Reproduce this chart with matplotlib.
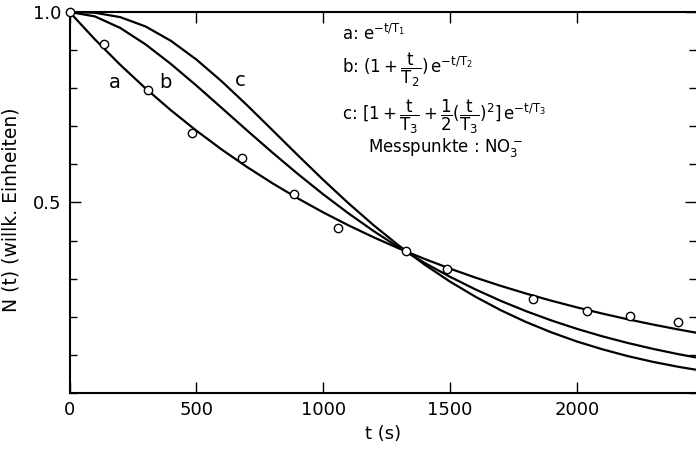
import matplotlib
matplotlib.use("Agg")
import matplotlib.pyplot as plt
from matplotlib.ticker import MultipleLocator, FixedLocator, NullFormatter

plt.rcParams['font.family'] = ['DejaVu Sans']
plt.rcParams['mathtext.default'] = 'regular'

# time grid (s) of values
t_curve = [0, 100, 200, 300, 400, 500, 600, 700, 800, 900, 1000, 1100, 1200,
           1300, 1400, 1500, 1600, 1700, 1800, 1900, 2000, 2100, 2200, 2300,
           2400, 2500]
curve_a = [1.0, 0.9281, 0.8613, 0.7994, 0.7419, 0.6886, 0.6391, 0.5931, 0.5505,
           0.5109, 0.4741, 0.4400, 0.4084, 0.3790, 0.3518, 0.3265, 0.3030, 0.2812,
           0.2610, 0.2422, 0.2248, 0.2086, 0.1936, 0.1797, 0.1668, 0.1548]
curve_b = [1.0, 0.9884, 0.9581, 0.9149, 0.8634, 0.8070, 0.7482, 0.6891, 0.6310,
           0.5750, 0.5216, 0.4714, 0.4246, 0.3813, 0.3415, 0.3051, 0.2720, 0.2419,
           0.2148, 0.1904, 0.1685, 0.1489, 0.1315, 0.1159, 0.1020, 0.0897]
curve_c = [1.0, 0.9980, 0.9865, 0.9619, 0.9242, 0.8753, 0.8180, 0.7553, 0.6899,
           0.6241, 0.5596, 0.4979, 0.4398, 0.3861, 0.3369, 0.2925, 0.2528, 0.2174,
           0.1863, 0.1591, 0.1353, 0.1149, 0.0970, 0.0818, 0.0688, 0.0578]

# measured points (NO3-)
t_meas = [0, 137, 308, 484, 681, 886, 1059, 1326, 1488, 1826, 2040, 2211, 2398]
n_meas = [1.0, 0.915, 0.795, 0.682, 0.616, 0.521, 0.433, 0.374, 0.326, 0.248,
          0.216, 0.202, 0.186]

x_ticks = [0, 500, 1000, 1500, 2000]
x_ticklabels = ['0', '500', '1000', '1500', '2000']
y_major = [0.5, 1.0]
y_major_labels = ['0.5', '1.0']

fig = plt.figure(figsize=(6.96, 4.49), dpi=100)
ax = fig.add_axes([0.0999, 0.1247, 0.9001, 0.8486])

lw = 1.6
ax.plot(t_curve, curve_a, color='black', lw=lw, zorder=2)
ax.plot(t_curve, curve_b, color='black', lw=lw, zorder=2)
ax.plot(t_curve, curve_c, color='black', lw=lw, zorder=2)
ax.plot(t_meas, n_meas, linestyle='none', marker='o', markersize=6,
        markerfacecolor='white', markeredgecolor='black', markeredgewidth=1.0,
        zorder=4, clip_on=False)

ax.set_xlim(0, 2470)
ax.set_ylim(0, 1.0)

ax.xaxis.set_major_locator(FixedLocator(x_ticks))
ax.set_xticklabels(x_ticklabels)
ax.yaxis.set_major_locator(FixedLocator(y_major))
ax.set_yticklabels(y_major_labels)
ax.yaxis.set_minor_locator(MultipleLocator(0.1))
ax.yaxis.set_minor_formatter(NullFormatter())

ax.tick_params(axis='both', which='major', direction='in', top=True, right=True,
               length=8, width=1.0, labelsize=13, pad=6)
ax.tick_params(axis='y', which='minor', direction='in', right=True,
               length=5, width=1.0)

for s in ['left', 'bottom', 'top']:
    ax.spines[s].set_linewidth(1.5)
ax.spines['right'].set_visible(False)

ax.set_xlabel('t (s)', fontsize=13, labelpad=4)
ax.set_ylabel('N (t) (willk. Einheiten)', fontsize=13.5)
ax.yaxis.set_label_coords(-0.078, 0.48)

# curve labels
ax.text(179, 0.816, 'a', fontsize=14, ha='center', va='center')
ax.text(377, 0.816, 'b', fontsize=14, ha='center', va='center')
ax.text(672, 0.82, 'c', fontsize=14, ha='center', va='center')

# formula block
fs = 12
ax.text(1075, 0.942, r'a: $e^{-t/T_1}$', fontsize=fs, ha='left', va='center')
ax.text(1075, 0.848, r'b: $(1+\dfrac{t}{T_2})\,e^{-t/T_2}$', fontsize=fs,
        ha='left', va='center')
ax.text(1075, 0.725,
        r'c: $[1+\dfrac{t}{T_3}+\dfrac{1}{2}(\dfrac{t}{T_3})^2]\,e^{-t/T_3}$',
        fontsize=fs, ha='left', va='center')
ax.text(1175, 0.645, r'Messpunkte : NO$_3^-$', fontsize=fs, ha='left', va='center')

fig.savefig('out.png', dpi=100)
